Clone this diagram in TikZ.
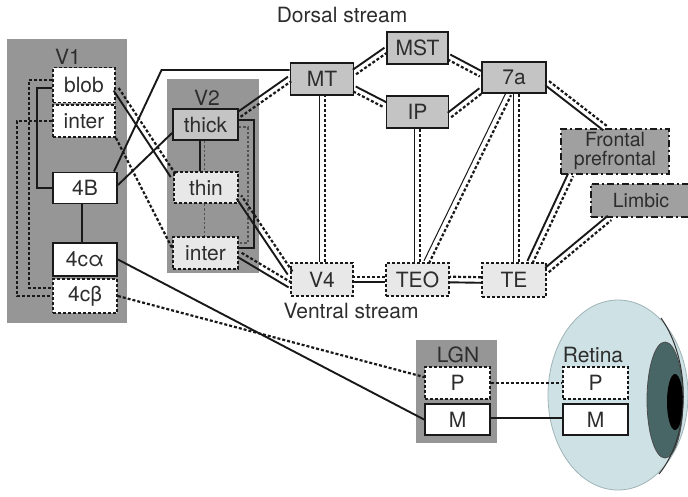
\documentclass[tikz,border=0pt]{standalone}
\usepackage{fontspec}
\setmainfont{TeX Gyre Heros}
\usetikzlibrary{calc}

\definecolor{panel}{RGB}{150,150,150}
\definecolor{midbox}{RGB}{196,196,196}
\definecolor{darkbox}{RGB}{160,160,160}
\definecolor{lightbox}{RGB}{232,232,232}
\definecolor{eyeball}{RGB}{206,226,229}
\definecolor{eyeedge}{RGB}{160,180,184}
\definecolor{iris}{RGB}{72,102,102}
\definecolor{ink}{RGB}{25,25,25}
\definecolor{textc}{RGB}{45,45,45}

\newcommand{\boxfs}{\fontsize{21}{19}\selectfont}
\newcommand{\smallfs}{\fontsize{19.5}{19}\selectfont}
\newcommand{\labfs}{\fontsize{21}{22}\selectfont}

\tikzset{
  box/.style={draw=ink, line width=1.9pt, minimum height=32pt, inner sep=0pt,
              font=\boxfs, text=textc},
  solidbox/.style={box},
  dashbox/.style={box, dash pattern=on 3pt off 2pt},
  dotdashbox/.style={box, dash pattern=on 7pt off 3pt on 2pt off 3pt, font=\smallfs},
  arealabel/.style={font=\labfs, text=textc, inner sep=0pt},
  link/.style={draw=ink, line width=1.9pt},
  dlink/.style={draw=ink, line width=2.2pt, dash pattern=on 3pt off 2pt},
  hair/.style={draw=ink, line width=1pt},
  dhair/.style={draw=ink!75, line width=1.4pt, dash pattern=on 2.5pt off 2pt},
}

% paired pathway: solid line on the left of A->B, dashed line on the right
\newcommand{\duo}[3][link]{%
  \draw[#1] ($#2!2.8pt!90:#3$) -- ($#3!2.8pt!-90:#2$);
  \draw[dlink] ($#2!2.8pt!-90:#3$) -- ($#3!2.8pt!90:#2$);}

\begin{document}
\begin{tikzpicture}[x=1pt,y=-1pt]
\path[use as bounding box, fill=white] (0,0) rectangle (688,496);

% ---- eye ----
\filldraw[fill=eyeball, draw=eyeedge, line width=0.8pt] (618,395) ellipse [x radius=70pt, y radius=95pt];
\filldraw[fill=iris, draw=black!70, line width=0.8pt] (665,400) ellipse [x radius=18pt, y radius=58pt];
\fill[black] (675,402) ellipse [x radius=8pt, y radius=28pt];
\draw[black!80, line width=1pt] (661,318) .. controls (691,360) and (691,435) .. (659,474);

% ---- area panels ----
\fill[panel] (7,39) rectangle (127,323);
\fill[panel] (167,79) rectangle (259,273);
\fill[panel] (416,340) rectangle (497,443);

\node[arealabel] (v1lab) at (68,57) {V1};
\node[arealabel] (v2lab) at (207,98) {V2};
\node[arealabel] (lgnlab) at (458,355) {LGN};
\node[arealabel] (retlab) at (593,355) {Retina};
\node[arealabel] (dorsal) at (342,15) {Dorsal stream};
\node[arealabel] (ventral) at (351,311) {Ventral stream};

% ---- V1 ----
\node[dashbox, fill=white, minimum width=62pt, minimum height=35pt] (blob) at (84,85) {blob};
\node[dashbox, fill=white, minimum width=62pt, minimum height=32pt] (inter1) at (84,121) {inter};
\node[solidbox, fill=white, minimum width=64pt, minimum height=31pt] (c4B) at (85,188) {4B};
\node[solidbox, fill=white, minimum width=64pt, minimum height=33pt] (c4a) at (85,259.5) {4cα};
\node[dashbox, fill=white, minimum width=64pt, minimum height=34pt] (c4b) at (85,296) {4cβ};

% ---- V2 ----
\node[solidbox, fill=midbox, minimum width=65pt, minimum height=31pt] (thick) at (205.5,124.5) {thick};
\node[dashbox, fill=lightbox, minimum width=64pt, minimum height=31pt] (thin) at (206,187.5) {thin};
\node[dashbox, fill=lightbox, minimum width=65pt, minimum height=32pt] (inter2) at (205.5,253) {inter};

% ---- dorsal areas ----
\node[solidbox, fill=midbox, minimum width=63pt] (MT) at (322,79) {MT};
\node[solidbox, fill=midbox, minimum width=61pt] (MST) at (417.5,48) {MST};
\node[solidbox, fill=midbox, minimum width=62pt] (IP) at (417.5,112) {IP};
\node[solidbox, fill=midbox, minimum width=64pt, minimum height=31pt] (n7a) at (514,77.5) {7a};
\node[dotdashbox, fill=darkbox, minimum width=108pt, minimum height=45pt, align=center] (front) at (615,151.5) {Frontal\\prefrontal};
\node[dotdashbox, fill=darkbox, minimum width=100pt, minimum height=33pt] (limbic) at (641,200.5) {Limbic};

% ---- ventral areas ----
\node[dashbox, fill=lightbox, minimum width=62pt, minimum height=33pt] (V4) at (322,279.5) {V4};
\node[dashbox, fill=lightbox, minimum width=63pt, minimum height=33pt] (TEO) at (417.5,279.5) {TEO};
\node[dashbox, fill=lightbox, minimum width=64pt, minimum height=34pt] (TE) at (514,280) {TE};

% ---- LGN and retina ----
\node[dashbox, fill=white, minimum width=65pt, minimum height=32pt] (lgnP) at (457.5,383) {P};
\node[solidbox, fill=white, minimum width=65pt, minimum height=31pt] (lgnM) at (457.5,419.5) {M};
\node[dashbox, fill=white, minimum width=65pt, minimum height=32pt] (retP) at (595.5,383) {P};
\node[solidbox, fill=white, minimum width=65pt, minimum height=31pt] (retM) at (595.5,419.5) {M};

% ---- links inside V1 ----
\draw[hair, line width=1.4pt] ([yshift=-3pt]blob.west) -| ([xshift=-15pt]c4B.west) -- (c4B.west);
\draw[dlink] ([yshift=5pt]blob.west) -| ([xshift=-23pt,yshift=8pt]c4b.west) -- ([yshift=8pt]c4b.west);
\draw[dlink] (inter1.west) -| ([xshift=-35pt]c4b.west) -- (c4b.west);
\draw[link] ([xshift=-3pt]c4B.south) -- ([xshift=-3pt]c4a.north);

% ---- V1 to V2 and MT ----
\duo{([yshift=12pt]thin.west)}{([yshift=-4pt]blob.east)}
\draw[dlink] (inter1.south east) -- ([yshift=5pt]inter2.west);
\draw[link] ([yshift=3pt]c4B.east) -- ([yshift=-8.5pt]thick.west);
\draw[link] ([xshift=-4pt]c4B.north east) -- ([xshift=-128pt,yshift=9pt]MT.west) -- ([yshift=9pt]MT.west);

% ---- links inside V2 ----
\draw[hair, line width=1.2pt] ([xshift=-5.5pt]thick.south) -- ([xshift=-6pt]thin.north);
\draw[dhair] ([xshift=-1pt]thick.south) -- ([xshift=-1.5pt]thin.north);
\draw[dhair] ([xshift=-1.5pt]thin.south) -- ([xshift=-1pt]inter2.north);
\draw[hair, line width=1.2pt] ([yshift=4.5pt]thick.east) -| ([xshift=15pt,yshift=5pt]inter2.east) -- ([yshift=5pt]inter2.east);
\draw[dhair] ([yshift=-2.5pt]thick.east) -| ([xshift=9pt,yshift=10pt]inter2.east) -- ([yshift=10pt]inter2.east);

% ---- dorsal stream ----
\duo{([yshift=10pt]thick.east)}{(MT.west)}
\duo{([yshift=7pt]MT.east)}{([yshift=-2pt]MST.west)}
\duo{([yshift=-10pt]MT.east)}{([yshift=7pt]IP.west)}
\duo{([yshift=-9pt]MST.east)}{([yshift=3.5pt]n7a.west)}
\duo{([yshift=-3pt]IP.east)}{([yshift=-13pt]n7a.west)}
\duo{([xshift=-10pt]front.north)}{([yshift=-5.5pt]n7a.east)}

% ---- dorsal to ventral ----
\duo[hair]{(V4.north)}{(MT.south)}
\duo[hair]{(TEO.north)}{(IP.south)}
\duo[hair]{([xshift=9pt]TEO.north)}{([xshift=-5.5pt]n7a.south)}
\duo[hair]{([xshift=2.5pt]TE.north)}{([xshift=2.5pt]n7a.south)}
\duo{([xshift=16pt]TE.north)}{([xshift=10.5pt]front.south west)}
\duo{([yshift=10pt]TE.east)}{([xshift=19.5pt]limbic.south west)}

% ---- ventral stream ----
\duo{([yshift=6.5pt]V4.west)}{([yshift=-9.5pt]thin.east)}
\duo{([yshift=-5.5pt]V4.west)}{([yshift=-1.5pt]inter2.east)}
\duo{(TEO.west)}{(V4.east)}
\duo{(TE.west)}{(TEO.east)}

% ---- subcortical input ----
\draw[link] (c4a.east) -- (lgnM.west);
\draw[dlink] (c4b.east) -- ([yshift=6pt]lgnP.west);
\draw[dlink] (lgnP.east) -- (retP.west);
\draw[hair, line width=1.4pt] ([yshift=1.5pt]lgnM.east) -- ([yshift=1.5pt]retM.west);
\end{tikzpicture}
\end{document}
